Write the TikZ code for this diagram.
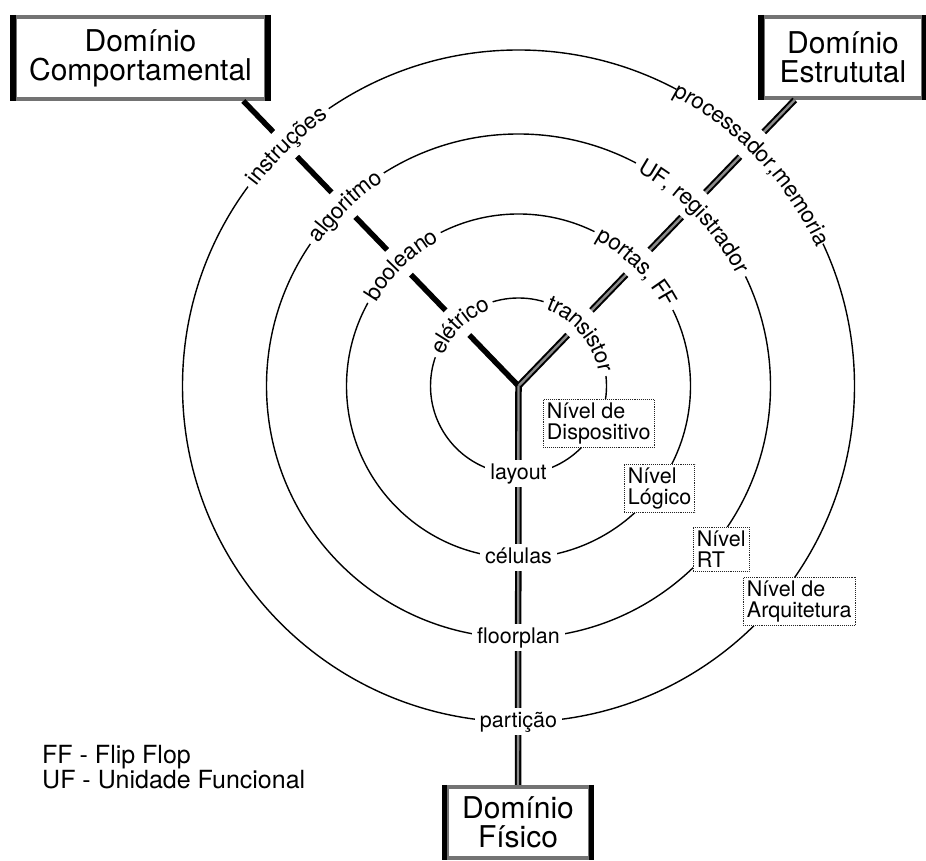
\documentclass[tikz,border=0pt]{standalone}
\usepackage{fontspec}
\setmainfont{TeX Gyre Heros}
\usetikzlibrary{calc,decorations.text}

\newcommand\lblfont{\fontsize{21.5}{21}\selectfont}
\newcommand\arcfont{\fontsize{22.5}{22}\selectfont}
\newcommand\domfont{\fontsize{30}{29}\selectfont}
\newcommand\legfont{\fontsize{25}{22}\selectfont}

% a label written along a ring: radius, centre angle, text width (pt), text
% (a white band knocks out ring and axis under the text first)
\newcommand\ringlabel[4]{%
  \pgfmathsetmacro\gapang{(0.5*#3+5)/#1*180/pi}%
  \pgfmathsetmacro\pathang{(0.5*#3+70)/#1*180/pi}%
  \fill[white] ($(C)+(#2+\gapang:#1-17)$)
     arc[start angle=#2+\gapang, end angle=#2-\gapang, radius=#1-17]
     -- ($(C)+(#2-\gapang:#1+17)$)
     arc[start angle=#2-\gapang, end angle=#2+\gapang, radius=#1+17] -- cycle;
  \path[decorate, decoration={text along path, text={|\arcfont|#4},
      text align=center, raise=-6.8pt}]
     ($(C)+(#2+\pathang:#1)$)
     arc[start angle=#2+\pathang, end angle=#2-\pathang, radius=#1];
}

\begin{document}
\begin{tikzpicture}[x=1pt,y=1pt,
  ring/.style={line width=1.4pt},
  armsolid/.style={line width=5.5pt},
  armdouble/.style={line width=6.5pt, postaction={draw=black!45, line width=2.4pt}},
  domainbox/.style={draw=black!55, line width=4pt, fill=white, align=center,
      font=\domfont, inner sep=0pt},
  domainside/.style={line width=5.5pt, line cap=square},
  levelbox/.style={draw=black!85, densely dotted, line width=0.9pt, fill=white,
      align=left, font=\lblfont, inner sep=3.5pt, anchor=north west},
  botlbl/.style={fill=white, font=\lblfont, text height=16pt, text depth=5pt,
      inner xsep=5pt, inner ysep=3pt},
  legend/.style={align=left, font=\legfont, inner sep=0pt, anchor=north west}]

\useasboundingbox (0,0) rectangle (926,861);

% the three domains
\node[domainbox, minimum width=251pt, minimum height=82pt] (comport) at (140.5,803) {Domínio\\Comportamental};
\node[domainbox, minimum width=160pt, minimum height=81pt] (estrut) at (843,803.5) {Domínio\\Estrututal};
\node[domainbox, minimum width=143pt, minimum height=71pt] (fisico) at (518,38.5) {Domínio\\Físico};
\foreach \b in {comport,estrut,fisico}{
  \draw[domainside] (\b.north west) -- (\b.south west);
  \draw[domainside] (\b.north east) -- (\b.south east);
}

% centre of the chart
\coordinate (C) at (518.5,475);

% abstraction levels
\foreach \r in {88,172,252,336}
  \draw[ring] (C) circle[radius=\r];

% the three axes
\coordinate (auxL) at ($(C)+(134:500)$);
\coordinate (auxR) at ($(C)+(46:500)$);
\coordinate (endL) at (intersection of C--auxL and comport.south west--comport.south east);
\coordinate (endR) at (intersection of C--auxR and estrut.south west--estrut.south east);
\draw[armsolid] (C) -- (endL);
\draw[armdouble] (C) -- (endR);
\draw[armdouble] (C) -- (fisico.north);

% behavioural and structural labels along the rings
\ringlabel{336}{134}{102.5}{instruções}
\ringlabel{336}{43.5}{206.2}{processador,memoria}
\ringlabel{252}{134}{92.5}{algoritmo}
\ringlabel{252}{44}{150.1}{UF, registrador}
\ringlabel{172}{134}{92.6}{booleano}
\ringlabel{172}{45}{102.6}{portas, FF}
\ringlabel{88}{134}{72.5}{elétrico}
\ringlabel{88}{40}{92.5}{transistor}

% physical labels
\node[botlbl] (layout) at ($(C)+(0,-88)$) {layout};
\node[botlbl] (celulas) at ($(C)+(0,-172)$) {células};
\node[botlbl] (floorplan) at ($(C)+(0,-252)$) {floorplan};
\node[botlbl] (particao) at ($(C)+(0,-336)$) {partição};

% level names
\node[levelbox] (dispositivo) at (543,462) {Nível de\\Dispositivo};
\node[levelbox] (logico) at (624,397) {Nível\\Lógico};
\node[levelbox] (rt) at (693,334) {Nível\\RT};
\node[levelbox] (arquitetura) at (743,284) {Nível de\\Arquitetura};

% abbreviations
\node[legend] (abbrev) at (42,116) {FF - Flip Flop\\UF - Unidade Funcional};

\end{tikzpicture}
\end{document}
